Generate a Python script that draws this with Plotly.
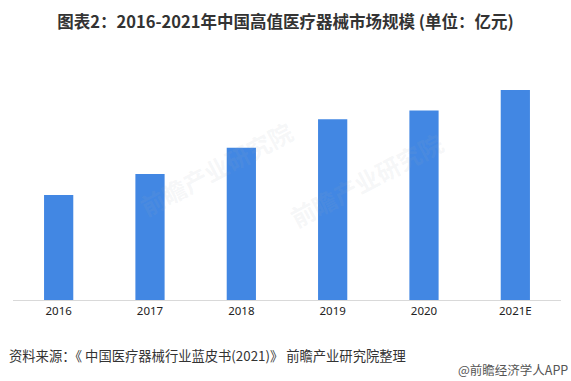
import plotly.graph_objects as go

categories = ["2016", "2017", "2018", "2019", "2020", "2021E"]
values = [720, 865, 1045, 1240, 1300, 1440]

title_text = "图表2：2016-2021年中国高值医疗器械市场规模 (单位：亿元)"
source_text = "资料来源：《 中国医疗器械行业蓝皮书(2021)》 前瞻产业研究院整理"
brand_text = "@前瞻经济学人APP"

fig = go.Figure()
fig.add_trace(go.Bar(
    x=categories, y=values,
    marker=dict(color="#4287e3", line=dict(width=0)),
    width=0.32,
    hoverinfo="skip",
))

wm_font = dict(family="Noto Sans CJK SC", size=24, color="rgba(160,170,185,0.11)")
for (wx, wy) in [(0.37, 0.86), (0.80, 0.55)]:
    fig.add_annotation(text="<b>前瞻产业研究院</b>", xref="paper", yref="paper",
                       x=wx, y=wy, showarrow=False, textangle=-28, font=wm_font)

fig.update_layout(
    width=571, height=381,
    margin=dict(l=13, r=10, t=80, b=81),
    paper_bgcolor="white", plot_bgcolor="white",
    showlegend=False,
    bargap=0.68,
    title=dict(text="<b>" + title_text + "</b>", x=0.5, xanchor="center",
               y=0.942, yanchor="middle",
               font=dict(family="Noto Sans CJK SC", size=16.5, color="#333333")),
    xaxis=dict(showgrid=False, showline=True, linecolor="#d9d9d9", linewidth=1,
               ticks="", tickfont=dict(family="Noto Sans", size=11.5, color="#222222"),
               fixedrange=True),
    yaxis=dict(range=[0, 1509], showgrid=False, showticklabels=False,
               zeroline=False, showline=False, fixedrange=True),
)

fig.add_annotation(text=source_text, xref="paper", yref="paper",
                   x=-6/548, y=-55/220, xanchor="left", yanchor="middle",
                   showarrow=False,
                   font=dict(family="Noto Sans CJK SC", size=13.3, color="#333333"))
fig.add_annotation(text=brand_text, xref="paper", yref="paper",
                   x=1 + 9/548, y=-69/220, xanchor="right", yanchor="middle",
                   showarrow=False,
                   font=dict(family="Noto Sans CJK SC", size=12.5, color="#555555"))

fig.write_html("out.html", config={"displayModeBar": False},
               post_script="document.body.style.margin='0';document.body.style.overflow='hidden';")
